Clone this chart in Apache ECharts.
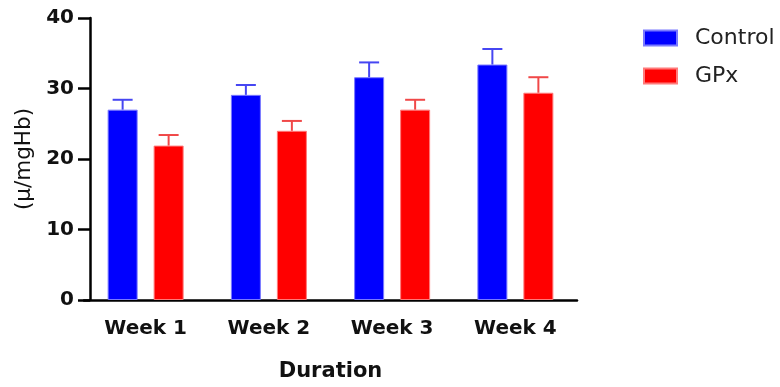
<!DOCTYPE html>
<html>
<head>
<meta charset="utf-8">
<script src="https://cdn.jsdelivr.net/npm/echarts@6/dist/echarts.min.js"></script>
<style>
  html, body { margin: 0; padding: 0; background: #fff; }
  #chart { width: 780px; height: 387px; }
</style>
</head>
<body>
<div id="chart"></div>
<script>
// Enzyme activity per week, mean with upper SD whisker
const weeks = ['Week 1', 'Week 2', 'Week 3', 'Week 4'];
const controlMean = [27.0, 29.1, 31.6, 33.4];
const controlSD = [1.4, 1.4, 2.1, 2.2];
const gpxMean = [21.9, 24.0, 27.0, 29.4];
const gpxSD = [1.5, 1.4, 1.4, 2.2];
const yTicks = [0, 10, 20, 30, 40];

const BAR_W = 30;
const BAR_GAP = 16;
const HALF_STEP = (BAR_W + BAR_GAP) / 2;
const CAP_W = 20;

function whiskerSeries(name, means, sds, shift, color) {
  return {
    type: 'custom',
    name: name + ' SD',
    z: 5,
    data: means.map((m, i) => [i, m, m + sds[i]]),
    renderItem: function (params, api) {
      const base = api.coord([api.value(0), api.value(1)]);
      const top = api.coord([api.value(0), api.value(2)]);
      const x = base[0] + shift;
      const style = { stroke: color, lineWidth: 2 };
      return {
        type: 'group',
        children: [
          { type: 'line', shape: { x1: x, y1: base[1], x2: x, y2: top[1] }, style: style },
          { type: 'line', shape: { x1: x - CAP_W / 2, y1: top[1], x2: x + CAP_W / 2, y2: top[1] }, style: style }
        ]
      };
    }
  };
}

const chart = echarts.init(document.getElementById('chart'), null, { renderer: 'canvas' });
chart.setOption({
  animation: false,
  backgroundColor: '#ffffff',
  grid: { left: 84, right: 203, top: 18, bottom: 85, containLabel: false },
  legend: {
    data: ['Control', 'GPx'],
    orient: 'vertical',
    left: 638,
    top: 22,
    icon: 'rect',
    itemWidth: 33,
    itemHeight: 15,
    itemGap: 16,
    textStyle: { fontFamily: 'DejaVu Sans', fontSize: 22, color: '#222', padding: [0, 0, 0, 13] }
  },
  xAxis: {
    type: 'category',
    data: weeks,
    name: 'Duration',
    nameLocation: 'middle',
    nameGap: 61,
    nameTextStyle: { fontFamily: 'DejaVu Sans', fontWeight: 'bold', fontSize: 21, color: '#111' },
    axisLine: { lineStyle: { color: '#000', width: 2.5 } },
    axisTick: { alignWithLabel: true, length: 10, lineStyle: { color: '#000', width: 2.5 } },
    axisLabel: { margin: 19, fontFamily: 'DejaVu Sans', fontWeight: 'bold', fontSize: 20, color: '#111' }
  },
  yAxis: {
    type: 'value',
    min: yTicks[0],
    max: yTicks[yTicks.length - 1],
    interval: 10,
    offset: -6,
    name: '(µ/mgHb)',
    nameLocation: 'middle',
    nameGap: 52,
    nameTextStyle: { fontFamily: 'DejaVu Sans', fontSize: 21.5, color: '#111' },
    splitLine: { show: false },
    axisLine: { show: true, lineStyle: { color: '#000', width: 2.5 } },
    axisTick: { show: true, length: 12, lineStyle: { color: '#000', width: 2.5 } },
    axisLabel: { margin: 16, fontFamily: 'DejaVu Sans', fontWeight: 'bold', fontSize: 20, color: '#111' }
  },
  series: [
    {
      name: 'Control',
      type: 'bar',
      data: controlMean,
      barWidth: BAR_W,
      barGap: (BAR_GAP / BAR_W * 100) + '%',
      itemStyle: { color: '#0000ff', borderColor: '#7a7aff', borderWidth: 1 }
    },
    {
      name: 'GPx',
      type: 'bar',
      data: gpxMean,
      barWidth: BAR_W,
      itemStyle: { color: '#ff0000', borderColor: '#ff7a7a', borderWidth: 1 }
    },
    whiskerSeries('Control', controlMean, controlSD, -HALF_STEP, '#4646f2'),
    whiskerSeries('GPx', gpxMean, gpxSD, HALF_STEP, '#f04848')
  ]
});
</script>
</body>
</html>
